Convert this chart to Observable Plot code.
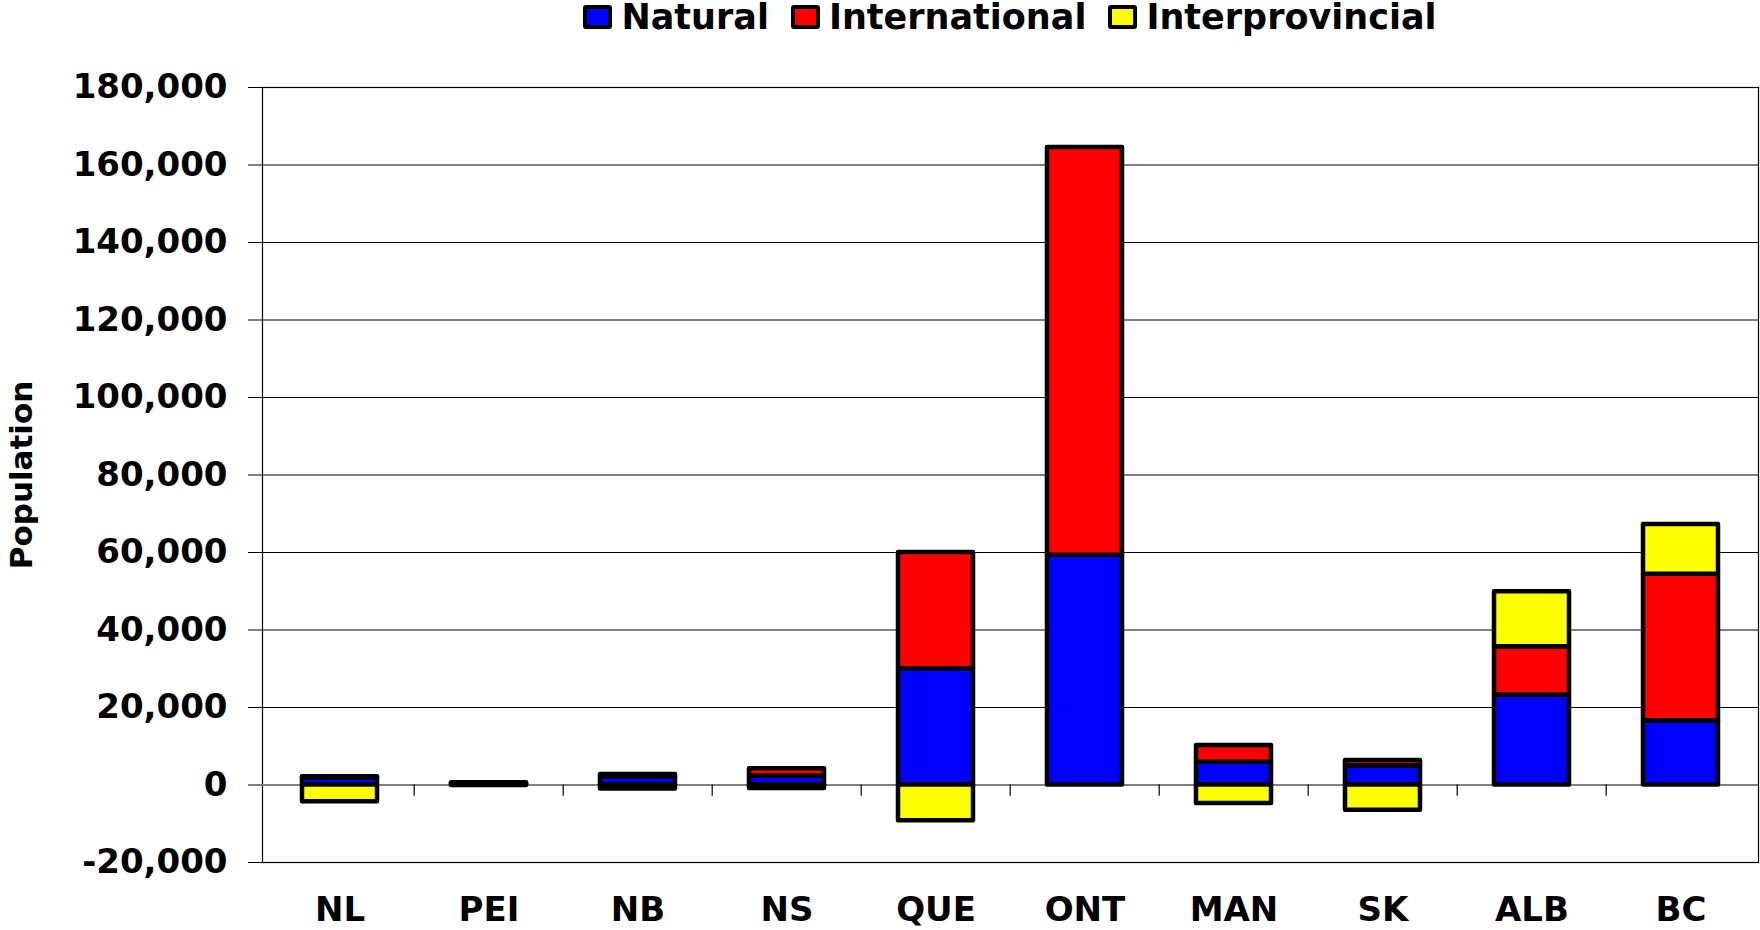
<!DOCTYPE html>
<html>
<head>
<meta charset="utf-8">
<script src="https://cdn.jsdelivr.net/npm/d3@7"></script>
<script src="https://cdn.jsdelivr.net/npm/@observablehq/plot@0.6"></script>
<style>
  html, body { margin: 0; padding: 0; background: #fff; }
  body { width: 1760px; height: 930px; overflow: hidden; font-family: "DejaVu Sans", sans-serif; font-weight: bold; color: #000; }
  #legend { height: 40px; box-sizing: border-box; padding-left: 262px; padding-right: 2px; display: flex; justify-content: center; align-items: flex-start; font-size: 35px; line-height: 34px; }
  .item { display: inline-flex; align-items: center; margin: 0 11px; height: 34px; }
  .sw { width: 29px; height: 24px; box-sizing: border-box; border: 4px solid #000; border-radius: 3px; margin-right: 9px; }
  #chart svg { display: block; overflow: visible; }
</style>
</head>
<body>
<div id="legend"></div>
<div id="chart"></div>
<script>
const provinces = ["NL", "PEI", "NB", "NS", "QUE", "ONT", "MAN", "SK", "ALB", "BC"];
const seriesNames = ["Natural", "International", "Interprovincial"];
const seriesColors = ["#0000FF", "#FF0000", "#FFFF00"];
const natural = [1900, 300, 2100, 2300, 30000, 59300, 5900, 5000, 23200, 16600];
const international = [200, 300, 600, 1900, 30000, 105200, 4300, 1300, 12500, 37800];
const interprovincial = [-4300, -100, -1000, -900, -9200, 0, -4800, -6500, 14200, 12800];
const yTicks = [-20000, 0, 20000, 40000, 60000, 80000, 100000, 120000, 140000, 160000, 180000];
const yLabel = "Population";

const seriesValues = [natural, international, interprovincial];
const rows = [];
seriesNames.forEach((s, j) => {
  provinces.forEach((p, i) => rows.push({province: p, series: s, value: seriesValues[j][i]}));
});

// legend
const legend = document.getElementById("legend");
seriesNames.forEach((s, j) => {
  const item = document.createElement("span");
  item.className = "item";
  const sw = document.createElement("span");
  sw.className = "sw";
  sw.style.background = seriesColors[j];
  const t = document.createElement("span");
  t.textContent = s;
  item.appendChild(sw);
  item.appendChild(t);
  legend.appendChild(item);
});

const W = 1760, H = 890, mL = 262, mR = 2, mT = 47, mB = 68;
const step = (W - mL - mR) / provinces.length;
const fmt = d => d.toLocaleString("en-US");

const chart = Plot.plot({
  width: W,
  height: H,
  marginLeft: mL,
  marginRight: mR,
  marginTop: mT,
  marginBottom: mB,
  style: {fontFamily: "DejaVu Sans, sans-serif", fontWeight: "bold", fontSize: "34px", color: "#000", background: "#fff"},
  x: {domain: provinces, paddingInner: 0.5, paddingOuter: 0.25},
  y: {domain: [-20000, 180000]},
  color: {domain: seriesNames, range: seriesColors},
  marks: [
    Plot.frame({stroke: "#000", strokeWidth: 1.2}),
    Plot.ruleY(yTicks.filter(d => d !== 0), {stroke: "#000", strokeWidth: 1}),
    Plot.ruleY([0], {stroke: "#808080", strokeWidth: 2}),
    Plot.ruleX(provinces.slice(1), {x: d => d, y1: 0, y2: -2900, dx: -step / 2, stroke: "#000", strokeWidth: 1.2}),
    Plot.barY(rows, Plot.stackY({
      x: "province", y: "value", fill: "series", order: seriesNames,
      stroke: "#000", strokeWidth: 4.5, strokeLinejoin: "round"
    })),
    Plot.axisY({ticks: yTicks, tickSize: 14, tickPadding: 21, tickFormat: fmt, fontSize: 34, fontWeight: "bold", label: null}),
    Plot.axisX({tickSize: 0, tickPadding: 34, fontSize: 34, fontWeight: "bold", label: null}),
    Plot.text([yLabel], {frameAnchor: "left", textAnchor: "middle", lineAnchor: "middle", rotate: -90, dx: -240, fontSize: 31, fontWeight: "bold", fill: "#000"})
  ]
});
document.getElementById("chart").appendChild(chart);
</script>
</body>
</html>
